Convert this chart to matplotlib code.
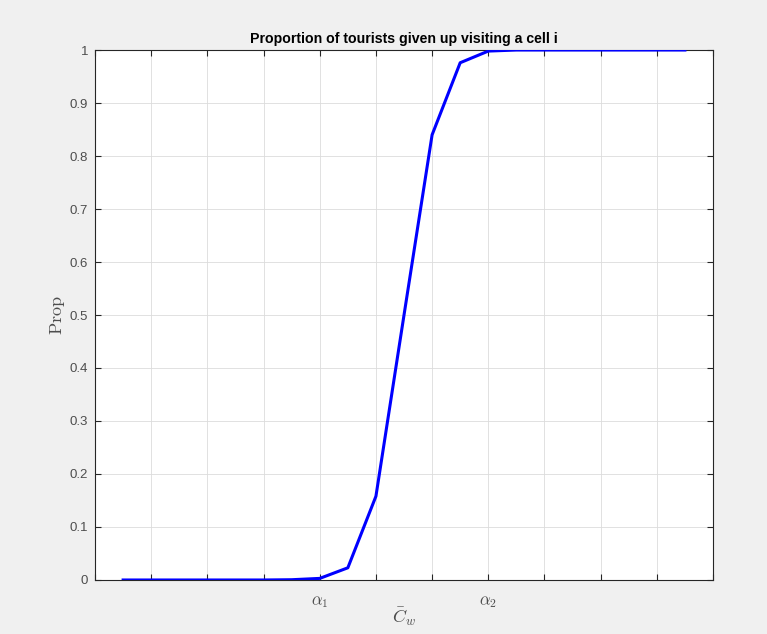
import numpy as np
import matplotlib
matplotlib.use("Agg")
import matplotlib.pyplot as plt

# cost levels (grid units) and proportion of tourists giving up
cost = [0.5, 1.0, 1.5, 2.0, 2.5, 3.0, 3.5, 4.0, 4.5, 5.0, 5.5, 6.0, 6.5, 7.0,
        7.5, 8.0, 8.5, 9.0, 9.5, 10.0, 10.5]
prop = [0.0, 0.0, 0.0, 0.0, 0.0, 0.0, 0.0005, 0.003, 0.023, 0.158, 0.5, 0.84,
        0.976, 0.998, 1.0, 1.0, 1.0, 1.0, 1.0, 1.0, 1.0]

xtick_pos = list(range(0, 12))
xtick_labels = ['', '', '', '', r'$\alpha_1$', '', '', r'$\alpha_2$', '', '', '', '']
ytick_pos = [0, 0.1, 0.2, 0.3, 0.4, 0.5, 0.6, 0.7, 0.8, 0.9, 1.0]
ytick_labels = ['0', '0.1', '0.2', '0.3', '0.4', '0.5', '0.6', '0.7', '0.8', '0.9', '1']

plt.rcParams['font.family'] = ['Liberation Sans', 'DejaVu Sans']
plt.rcParams['mathtext.fontset'] = 'cm'

axis_col = '#262626'
label_col = '#4d4d4d'

fig = plt.figure(figsize=(7.67, 6.34), dpi=100, facecolor='#f0f0f0')
ax = fig.add_axes([0.1239, 0.0852, 0.8057, 0.8359])
ax.set_facecolor('white')

ax.plot(cost, prop, color=(0, 0, 1), linewidth=2.2, zorder=3)

ax.set_xlim(0, 11)
ax.set_ylim(0, 1)
ax.set_xticks(xtick_pos)
ax.set_xticklabels(xtick_labels, fontsize=12, color=label_col)
ax.set_yticks(ytick_pos)
ax.set_yticklabels(ytick_labels, fontsize=9.5, color=label_col)

ax.grid(True, color='#dcdcdc', linewidth=0.6)
ax.set_axisbelow(True)
ax.tick_params(direction='in', length=4, width=0.8, color=axis_col,
               top=True, right=True, pad=5)
ax.tick_params(axis='x', pad=10)
for s in ax.spines.values():
    s.set_color(axis_col)
    s.set_linewidth(0.8)

ax.set_title('Proportion of tourists given up visiting a cell i',
             fontsize=10.2, fontweight='bold', color='black', pad=5)
ax.set_xlabel(r'$\bar{C}_w$', fontsize=13, color=label_col, labelpad=-3)
ax.set_ylabel(r'$\mathrm{Prop}$', fontsize=13, color=label_col, labelpad=2)

fig.savefig('out.png', dpi=100, facecolor=fig.get_facecolor())
